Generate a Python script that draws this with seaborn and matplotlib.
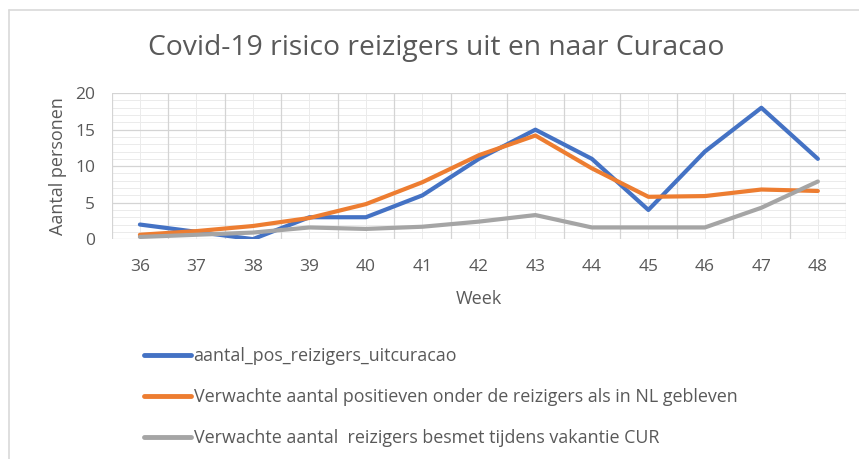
import pandas as pd
import matplotlib.pyplot as plt
import seaborn as sns
from matplotlib.ticker import MultipleLocator
from matplotlib.lines import Line2D

weeks = [36, 37, 38, 39, 40, 41, 42, 43, 44, 45, 46, 47, 48]
pos_uit_curacao = [2, 1, 0, 3, 3, 6, 11, 15, 11, 4, 12, 18, 11]
verwacht_nl = [0.6, 1.1, 1.8, 2.9, 4.8, 7.8, 11.5, 14.2, 9.7, 5.8, 5.9, 6.8, 6.6]
verwacht_cur = [0.3, 0.6, 0.9, 1.6, 1.4, 1.7, 2.4, 3.3, 1.6, 1.6, 1.6, 4.3, 7.9]

series_names = [
    'aantal_pos_reizigers_uitcuracao',
    'Verwachte aantal positieven onder de reizigers als in NL gebleven',
    'Verwachte aantal  reizigers besmet tijdens vakantie CUR',
]
colors = ['#4472C4', '#ED7D31', '#A5A5A5']


def buildFrame():
    parts = []
    for name, vals in zip(series_names, [pos_uit_curacao, verwacht_nl, verwacht_cur]):
        parts.append(pd.DataFrame({'Week': weeks, 'value': vals, 'serie': name}))
    return pd.concat(parts, ignore_index=True)


def plotChart(data):
    sns.set_style('white')
    plt.rcParams['font.family'] = ['Open Sans', 'DejaVu Sans']
    txt = '#595959'

    fig = plt.figure(figsize=(8.59, 4.59), dpi=100)
    ax = fig.add_axes([0.130, 0.479, 0.855, 0.318])

    sns.lineplot(data=data, x='Week', y='value', hue='serie', hue_order=series_names,
                 palette=colors, linewidth=3, ax=ax, legend=False, zorder=3)

    ax.set_xlim(35.5, 48.5)
    ax.set_ylim(0, 20)
    ax.set_xticks(weeks)
    ax.set_xticklabels([str(w) for w in weeks])
    ax.yaxis.set_major_locator(MultipleLocator(5))

    # excel style grid: boundaries darker, centers and units lighter
    ax.grid(False)
    for b in [w + 0.5 for w in [35] + weeks]:
        ax.axvline(b, color='#d4d4d4', lw=0.9, zorder=1)
    for w in weeks:
        ax.axvline(w, color='#ebebeb', lw=0.7, zorder=0)
    for v in range(0, 21):
        if v % 5 == 0:
            ax.axhline(v, color='#d4d4d4', lw=0.9, zorder=1)
        else:
            ax.axhline(v, color='#ebebeb', lw=0.7, zorder=0)

    for s in ax.spines.values():
        s.set_visible(False)
    ax.tick_params(axis='both', which='both', length=0, labelsize=12.5, colors=txt)
    ax.tick_params(axis='x', pad=14)
    ax.tick_params(axis='y', pad=12)

    ax.set_xlabel('Week', fontsize=13, color=txt, labelpad=11)
    ax.set_ylabel('Aantal personen', fontsize=13, color=txt, labelpad=6)
    fig.text(0.508, 0.895, 'Covid-19 risico reizigers uit en naar Curacao',
             ha='center', va='center', fontsize=20.3, color=txt)

    handles = [Line2D([], [], color=c, lw=3.5) for c in colors]
    leg = fig.legend(handles, series_names, loc='upper left', bbox_to_anchor=(0.168, 0.243),
                     frameon=False, fontsize=12.9, handlelength=2.6, handletextpad=0.15,
                     labelspacing=1.28, borderaxespad=0, borderpad=0)
    for t in leg.get_texts():
        t.set_color(txt)

    # chart frame
    fig.add_artist(Line2D([0.0105, 0.0105], [0, 0.978], color='#d9d9d9', lw=1.2, transform=fig.transFigure))
    fig.add_artist(Line2D([0.0105, 1.0], [0.978, 0.978], color='#d9d9d9', lw=1.2, transform=fig.transFigure))

    fig.savefig('out.png', dpi=100)


def main():
    data = buildFrame()
    plotChart(data)


if __name__ == '__main__':
    main()
